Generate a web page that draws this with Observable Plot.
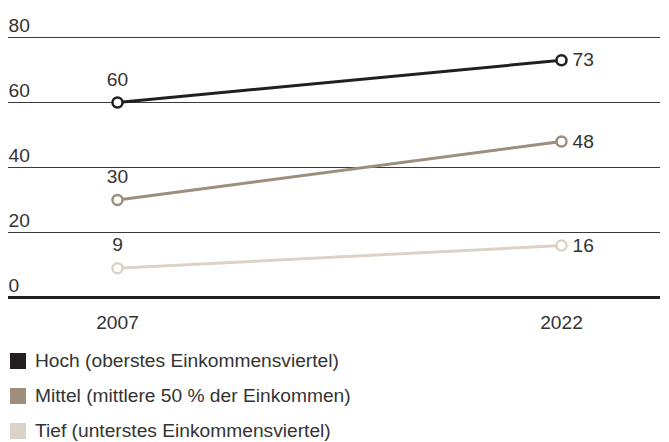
<!DOCTYPE html>
<html><head><meta charset="utf-8">
<script src="https://cdn.jsdelivr.net/npm/d3@7"></script>
<script src="https://cdn.jsdelivr.net/npm/@observablehq/plot@0.6"></script>
<style>
body{margin:0;background:#fff;font-family:"Liberation Sans",Arial,sans-serif;color:#333;}
#chart svg{display:block}
#legend{margin-top:3px}
.row{display:flex;align-items:center;height:35px;font-size:19.2px}
.sw{width:16px;height:16px;margin-left:10px;margin-right:9px;flex:none}
</style></head><body><div id="chart"></div><div id="legend"></div>
<script>
const years = [2007, 2022];
const groups = ["Hoch (oberstes Einkommensviertel)", "Mittel (mittlere 50 % der Einkommen)", "Tief (unterstes Einkommensviertel)"];
const hoch = [60, 73];
const mittel = [30, 48];
const tief = [9, 16];
const colors = ["#231f20", "#9d8f7c", "#dbd3c8"];
const yTicks = [0, 20, 40, 60, 80];

const series = [hoch, mittel, tief];
const data = [];
series.forEach((vals, gi) => vals.forEach((v, i) => data.push({group: groups[gi], year: years[i], value: v})));
const first = data.filter(d => d.year === years[0]);
const last = data.filter(d => d.year === years[years.length - 1]);

const fs = 19.2;
const chart = Plot.plot({
  width: 669,
  height: 340,
  marginLeft: 8,
  marginRight: 9,
  marginTop: 37,
  marginBottom: 43,
  style: {fontFamily: "'Liberation Sans', Arial, sans-serif", fontSize: fs + "px", color: "#333", background: "#fff"},
  x: {type: "point", domain: years, range: [117, 561], padding: 0, axis: null},
  y: {domain: [0, 80], axis: null},
  color: {domain: groups, range: colors},
  marks: [
    Plot.ruleY(yTicks.filter(d => d > 0), {stroke: "#3a3a3a", strokeWidth: 1}),
    Plot.text(yTicks, {y: d => d, frameAnchor: "left", textAnchor: "start", dy: -12, fill: "#333", fontSize: fs}),
    Plot.ruleY([0], {stroke: "#231f20", strokeWidth: 3}),
    Plot.text(years, {x: d => d, frameAnchor: "bottom", dy: 31, text: d => String(d), fill: "#333", fontSize: fs}),
    Plot.line(data, {x: "year", y: "value", z: "group", stroke: "group", strokeWidth: 3}),
    Plot.dot(data, {x: "year", y: "value", stroke: "group", fill: "white", r: 5, strokeWidth: 2.5}),
    Plot.text(first, {x: "year", y: "value", text: d => String(d.value), dy: -23, fill: "#333", fontSize: fs}),
    Plot.text(last, {x: "year", y: "value", text: d => String(d.value), dx: 11, textAnchor: "start", fill: "#333", fontSize: fs})
  ]
});
document.getElementById("chart").appendChild(chart);

const legend = document.getElementById("legend");
groups.forEach((g, i) => {
  const row = document.createElement("div");
  row.className = "row";
  const sw = document.createElement("span");
  sw.className = "sw";
  sw.style.background = colors[i];
  const t = document.createElement("span");
  t.textContent = g;
  row.appendChild(sw);
  row.appendChild(t);
  legend.appendChild(row);
});
</script>
</body></html>
